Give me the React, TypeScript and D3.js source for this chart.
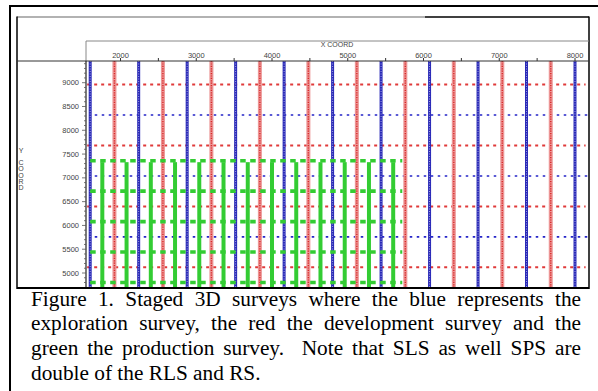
import React from "react";
import * as d3 from "d3";

// survey line positions (coordinates)
const blueX = [1600, 2240, 2880, 3520, 4160, 4800, 5440, 6080, 6720, 7360, 8000];
const redX = [1920, 2560, 3200, 3840, 4480, 5120, 5760, 6400, 7040, 7680];
const blueY = [8320, 7040, 5760];
const redY = [8960, 7680, 6400, 5120];
const greenX = [1760, 2080, 2400, 2720, 3040, 3360, 3680, 4000, 4320, 4640, 4960, 5280, 5600];
const greenY = [7360, 6720, 6080, 5440, 4800];
const xTicks = [2000, 3000, 4000, 5000, 6000, 7000, 8000];
const yTicks = [5000, 5500, 6000, 6500, 7000, 7500, 8000, 8500, 9000];
const captionLines = [
  "Figure 1. Staged 3D surveys where the blue represents the",
  "exploration survey, the red the development survey and the",
  "green the production survey.  Note that SLS as well SPS are",
  "double of the RLS and RS.",
];

const W = 598, H = 391;
const PL = 86, PR = 589, PT = 61, PB = 288;

let ctx: CanvasRenderingContext2D | null = null;
function measure(t: string, font: string) {
  if (!ctx) ctx = document.createElement("canvas").getContext("2d");
  if (!ctx) return t.length * 9;
  ctx.font = font;
  return ctx.measureText(t).width;
}

export default function App() {
  const x = d3.scaleLinear().domain([2000, 8000]).range([120.5, 575]);
  const y = d3.scaleLinear().domain([5000, 9000]).range([273, 82.7]);
  const xMinor = d3.range(1500, 8500, 500).filter((v) => x(v) > PL && x(v) < PR);
  const yMinor = d3.range(4800, 9500, 100).filter((v) => y(v) > PT && y(v) < PB);
  const sans = "'Liberation Sans', Arial, sans-serif";
  const fs = 21.3;
  const font = `${fs}px "Liberation Serif"`;
  const capL = 31, capR = 581;
  const baselines = [305.7, 330.3, 355, 379.5];

  const captionEls: React.ReactNode[] = [];
  captionLines.forEach((line, i) => {
    if (i === captionLines.length - 1) {
      captionEls.push(
        <text key={i} x={capL} y={baselines[i]} fontFamily="'Liberation Serif', serif" fontSize={fs} fill="#000">
          {line}
        </text>
      );
      return;
    }
    const parts = line.split(/( +)/);
    const words = parts.filter((p, k) => k % 2 === 0);
    const gaps = parts.filter((p, k) => k % 2 === 1).map((g) => g.length);
    const wordW = words.map((w) => measure(w, font));
    const totalSpaces = d3.sum(gaps);
    const extra = (capR - capL - d3.sum(wordW)) / totalSpaces;
    let cx = capL;
    words.forEach((w, k) => {
      captionEls.push(
        <text key={i + "-" + k} x={cx} y={baselines[i]} fontFamily="'Liberation Serif', serif" fontSize={fs} fill="#000">
          {w}
        </text>
      );
      cx += wordW[k] + (k < gaps.length ? gaps[k] * extra : 0);
    });
  });

  const yLabel = ["Y", "", "C", "O", "O", "R", "D"];

  return (
    <svg width={W} height={H} style={{ position: "absolute", left: 0, top: 0, background: "#fff" }}>
      <defs>
        <clipPath id="plot">
          <rect x={PL} y={PT} width={PR - PL} height={PB - PT} />
        </clipPath>
      </defs>
      {/* outer frame */}
      <line x1={9} x2={W} y1={6} y2={6} stroke="#000" strokeWidth={2} />
      <line x1={10} x2={10} y1={5} y2={H} stroke="#000" strokeWidth={2} />
      {/* inner frame */}
      <line x1={17} x2={425} y1={17} y2={17} stroke="#999" strokeWidth={1.5} />
      <line x1={425} x2={PR} y1={17} y2={17} stroke="#000" strokeWidth={1.5} />
      <line x1={17} x2={17} y1={16.5} y2={PB + 1} stroke="#000" strokeWidth={1.5} />
      <line x1={PR} x2={PR} y1={16.5} y2={PB + 1} stroke="#000" strokeWidth={1.5} />
      <line x1={PL} x2={PR} y1={41} y2={41} stroke="#888" strokeWidth={1} />
      <line x1={PL} x2={PL} y1={41} y2={PT} stroke="#888" strokeWidth={1} />

      {/* plot content */}
      <g clipPath="url(#plot)">
        {redY.map((v) => (
          <line key={"ry" + v} x1={x(1560)} x2={x(8140)} y1={y(v)} y2={y(v)} stroke="#e03a3a" strokeWidth={2} strokeDasharray="3,4" />
        ))}
        {blueY.map((v) => (
          <line key={"by" + v} x1={x(1660)} x2={x(8180)} y1={y(v)} y2={y(v)} stroke="#2525c8" strokeWidth={1.6} strokeDasharray="2.5,4.5" />
        ))}
        {redX.map((v) => (
          <g key={"rx" + v}>
            <line x1={x(v)} x2={x(v)} y1={PT} y2={PB} stroke="#ec9494" strokeWidth={4} />
            <line x1={x(v)} x2={x(v)} y1={PT} y2={PB} stroke="#d82a2a" strokeWidth={1.4} strokeDasharray="1.2,1.2" />
          </g>
        ))}
        {blueX.map((v) => (
          <g key={"bx" + v}>
            <line x1={x(v)} x2={x(v)} y1={PT} y2={PB} stroke="#2a2ab8" strokeWidth={3} />
            <line x1={x(v)} x2={x(v)} y1={PT} y2={PB} stroke="#a0a0e0" strokeWidth={1} strokeDasharray="1,1.5" />
          </g>
        ))}
        {greenY.map((v) => (
          <line key={"gy" + v} x1={x(1600)} x2={x(5720)} y1={y(v)} y2={y(v)} stroke="#33cc33" strokeWidth={3.6} strokeDasharray="5.5,4.5" />
        ))}
        {greenX.map((v) => (
          <line key={"gx" + v} x1={x(v)} x2={x(v)} y1={y(7330)} y2={PB} stroke="#33cc33" strokeWidth={4} />
        ))}
      </g>

      {/* axes */}
      <line x1={17} x2={PR} y1={PT} y2={PT} stroke="#333" strokeWidth={1} />
      <line x1={PL} x2={PL} y1={PT} y2={PB} stroke="#222" strokeWidth={1.2} />
      <line x1={17} x2={PR} y1={PB} y2={PB} stroke="#000" strokeWidth={2} />
      {xMinor.map((v) => (
        <line key={"xt" + v} x1={x(v)} x2={x(v)} y1={PT} y2={PT - 3} stroke="#333" strokeWidth={1} />
      ))}
      {xTicks.map((v) => (
        <text key={"xl" + v} x={x(v)} y={58} textAnchor="middle" fontFamily={sans} fontSize={7.5} fill="#444">
          {v}
        </text>
      ))}
      <text x={337} y={46.5} textAnchor="middle" fontFamily={sans} fontSize={7} fill="#444">
        X COORD
      </text>
      {yMinor.map((v) => (
        <line key={"ym" + v} x1={PL} x2={PL - (v % 500 === 0 ? 4 : 2)} y1={y(v)} y2={y(v)} stroke="#555" strokeWidth={0.8} />
      ))}
      {yTicks.map((v) => (
        <text key={"yl" + v} x={79} y={y(v) + 2.6} textAnchor="end" fontFamily={sans} fontSize={7.5} fill="#444">
          {v}
        </text>
      ))}
      {yLabel.map((c, i) => (
        <text key={"yc" + i} x={21} y={152.5 + i * 6.3} textAnchor="middle" fontFamily={sans} fontSize={7} fill="#444">
          {c}
        </text>
      ))}

      {captionEls}
    </svg>
  );
}
